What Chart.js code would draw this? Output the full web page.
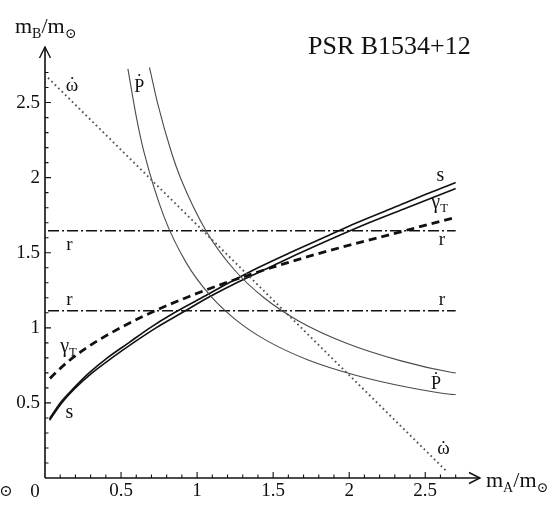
<!DOCTYPE html>
<html><head><meta charset="utf-8">
<script src="https://cdn.jsdelivr.net/npm/chart.js@4.4.1/dist/chart.umd.min.js"></script>
<style>html,body{margin:0;padding:0;background:#fff;}canvas{display:block;}</style>
</head><body>
<canvas id="c" width="556" height="513" style="width:556px;height:513px"></canvas>
<script>
// ---- axis ranges and tick labels ----
const X_MAX = 2.86, Y_MAX = 2.87;
const majorTicks = [0.5, 1, 1.5, 2, 2.5];
const majorTickLabels = ['0.5', '1', '1.5', '2', '2.5'];

// ---- series (m_A, m_B in solar masses) ----
const omegaDotA = [0.02, 2.645];
const omegaDotB = [2.665, 0.04];

const pDotInnerA = [0.545, 0.601, 0.651, 0.783, 0.930, 1.090, 1.259, 1.461, 1.730, 2.048, 2.402, 2.662, 2.700];
const pDotInnerB = [2.724, 2.402, 2.170, 1.739, 1.431, 1.211, 1.050, 0.913, 0.786, 0.683, 0.601, 0.558, 0.556];

const pDotOuterA = [0.687, 0.744, 0.828, 0.895, 1.064, 1.246, 1.440, 1.670, 1.978, 2.341, 2.669, 2.700];
const pDotOuterB = [2.735, 2.481, 2.179, 1.988, 1.637, 1.385, 1.200, 1.044, 0.899, 0.780, 0.704, 0.700];

const rUpperA = [0.02, 2.70];
const rUpperB = [1.647, 1.647];
const rLowerA = [0.02, 2.70];
const rLowerB = [1.113, 1.113];

const sUpperA = [0.03, 0.10, 0.19, 0.29, 0.41, 0.55, 0.69, 0.85, 1.03, 1.21, 1.40, 1.61, 1.83, 2.05, 2.29, 2.53, 2.70];
const sUpperB = [0.395, 0.50, 0.60, 0.70, 0.80, 0.90, 1.00, 1.10, 1.20, 1.30, 1.40, 1.50, 1.60, 1.70, 1.80, 1.90, 1.967];
const sLowerA = [0.03, 0.11, 0.20, 0.31, 0.44, 0.58, 0.73, 0.90, 1.07, 1.26, 1.47, 1.68, 1.90, 2.13, 2.38, 2.63, 2.70];
const sLowerB = [0.385, 0.50, 0.60, 0.70, 0.80, 0.90, 1.00, 1.10, 1.20, 1.30, 1.40, 1.50, 1.60, 1.70, 1.80, 1.90, 1.927];

const gammaA = [0.033, 0.070, 0.156, 0.256, 0.372, 0.646, 0.976, 1.358, 1.790, 2.269, 2.698];
const gammaB = [0.663, 0.701, 0.779, 0.855, 0.930, 1.077, 1.220, 1.358, 1.492, 1.621, 1.735];

const pts = (a, b) => a.map((v, i) => ({ x: v, y: b[i] }));

const SERIF = '"Liberation Serif","DejaVu Serif",serif';

function ds(label, a, b, color, width, dash, smooth) {
  return {
    label, data: pts(a, b), showLine: true, borderColor: color, borderWidth: width,
    borderDash: dash || [], pointRadius: 0, fill: false, borderCapStyle: 'butt',
    cubicInterpolationMode: smooth ? 'monotone' : 'default', tension: 0
  };
}

const datasets = [
  ds('omega dot', omegaDotA, omegaDotB, '#555', 1.9, [1.7, 3.1], false),
  ds('Pdot inner', pDotInnerA, pDotInnerB, '#4a4a4a', 1.1, null, true),
  ds('Pdot outer', pDotOuterA, pDotOuterB, '#4a4a4a', 1.1, null, true),
  ds('r upper', rUpperA, rUpperB, '#111', 1.5, [11, 3, 2, 3], false),
  ds('r lower', rLowerA, rLowerB, '#111', 1.5, [11, 3, 2, 3], false),
  ds('s upper', sUpperA, sUpperB, '#111', 1.6, null, true),
  ds('s lower', sLowerA, sLowerB, '#111', 1.6, null, true),
  ds('gamma_T', gammaA, gammaB, '#111', 2.8, [8, 5], true)
];

function tickCb(v) {
  const i = majorTicks.findIndex(t => Math.abs(t - v) < 1e-6);
  return i >= 0 ? majorTickLabels[i] : '';
}
function setTicks(scale) {
  scale.ticks = majorTicks.map(v => ({ value: v }));
}

function txt(ctx, s, px, py, size, align, base) {
  ctx.font = size + 'px ' + SERIF;
  ctx.textAlign = align || 'center';
  ctx.textBaseline = base || 'alphabetic';
  ctx.fillText(s, px, py);
}

// letter with a dot above (omega dot, P dot)
function dotted(ctx, s, px, py, size) {
  txt(ctx, s, px, py, size, 'center', 'alphabetic');
  const lift = (s === 'P') ? size * 0.26 : size * 0.02;
  txt(ctx, '\u02D9', px, py - lift, size, 'center', 'alphabetic');
}

function mathText(ctx, x0, base, parts, size) {
  let x = x0;
  for (const [t, sub] of parts) {
    const sz = sub ? size * 0.64 : size;
    ctx.font = sz + 'px ' + SERIF;
    ctx.textAlign = 'left';
    ctx.textBaseline = 'alphabetic';
    ctx.fillText(t, x, base + (sub ? size * 0.22 : 0));
    x += ctx.measureText(t).width;
  }
}

const decor = {
  id: 'decor',
  beforeDatasetsDraw(chart) {
    const { ctx, scales: { x, y } } = chart;
    const ox = x.getPixelForValue(0), oy = y.getPixelForValue(0);
    const xe = x.getPixelForValue(X_MAX), ye = y.getPixelForValue(Y_MAX);
    ctx.save();
    ctx.strokeStyle = '#111';
    ctx.lineWidth = 1.6;
    ctx.beginPath();
    ctx.moveTo(ox, oy); ctx.lineTo(xe, oy);
    ctx.moveTo(ox, oy); ctx.lineTo(ox, ye);
    ctx.stroke();
    ctx.lineWidth = 1.4;
    ctx.beginPath();
    ctx.moveTo(xe - 11, oy - 5.5); ctx.lineTo(xe, oy); ctx.lineTo(xe - 11, oy + 5.5);
    ctx.moveTo(ox - 5.5, ye + 11); ctx.lineTo(ox, ye); ctx.lineTo(ox + 5.5, ye + 11);
    ctx.stroke();
    ctx.lineWidth = 1.1;
    ctx.beginPath();
    for (let i = 1; i <= 27; i++) {
      const v = i / 10, L = (i % 5 === 0) ? 6 : 3.5;
      const px = x.getPixelForValue(v);
      ctx.moveTo(px, oy); ctx.lineTo(px, oy - L);
      const py = y.getPixelForValue(v);
      ctx.moveTo(ox, py); ctx.lineTo(ox + L, py);
    }
    ctx.stroke();
    ctx.restore();
  },
  afterDatasetsDraw(chart) {
    const { ctx, scales: { x, y } } = chart;
    const X = v => x.getPixelForValue(v), Y = v => y.getPixelForValue(v);
    ctx.save();
    ctx.fillStyle = '#111';
    // title
    txt(ctx, 'PSR B1534+12', 308, 54, 26, 'left', 'alphabetic');
    // axis titles
    mathText(ctx, 15, 33, [['m', false], ['B', true], ['/', false], ['m', false], ['\u2299', true]], 22);
    mathText(ctx, 486, 487, [['m', false], ['A', true], ['/', false], ['m', false], ['\u2299', true]], 22);
    // origin label and stray symbol at left edge
    txt(ctx, '0', 35, 497, 19, 'center', 'alphabetic');
    txt(ctx, '\u2299', 6, 496, 16, 'center', 'alphabetic');
    // curve labels
    dotted(ctx, '\u03C9', X(0.178), Y(2.58), 19);
    dotted(ctx, 'P', X(0.62), Y(2.57), 18);
    txt(ctx, 'r', X(0.16), Y(1.52), 19);
    txt(ctx, 'r', X(0.16), Y(1.15), 19);
    txt(ctx, 'r', X(2.61), Y(1.55), 19);
    txt(ctx, 'r', X(2.61), Y(1.15), 19);
    mathText(ctx, X(0.10), Y(0.84), [['\u03B3', false], ['T', true]], 20);
    mathText(ctx, X(2.54), Y(1.80), [['\u03B3', false], ['T', true]], 20);
    txt(ctx, 's', X(0.16), Y(0.40), 20);
    txt(ctx, 's', X(2.60), Y(1.98), 20);
    dotted(ctx, 'P', X(2.57), Y(0.59), 18);
    dotted(ctx, '\u03C9', X(2.62), Y(0.16), 19);
    ctx.restore();
  }
};

new Chart(document.getElementById('c'), {
  type: 'scatter',
  data: { datasets },
  options: {
    responsive: false,
    animation: false,
    layout: { padding: { left: 0, top: 47, right: 76, bottom: 0 } },
    scales: {
      x: {
        type: 'linear', min: 0, max: X_MAX, position: 'bottom',
        afterFit: s => { s.height = 35; },
        afterBuildTicks: setTicks,
        grid: { display: false }, border: { display: false },
        ticks: { autoSkip: false, maxRotation: 0, padding: -6, color: '#111',
          font: { family: SERIF, size: 19 }, callback: tickCb }
      },
      y: {
        type: 'linear', min: 0, max: Y_MAX, position: 'left',
        afterFit: s => { s.width = 45; },
        afterBuildTicks: setTicks,
        grid: { display: false }, border: { display: false },
        ticks: { autoSkip: false, padding: -3, color: '#111',
          font: { family: SERIF, size: 19 }, callback: tickCb }
      }
    },
    plugins: { legend: { display: false }, tooltip: { enabled: false } }
  },
  plugins: [decor]
});
</script>
</body></html>
